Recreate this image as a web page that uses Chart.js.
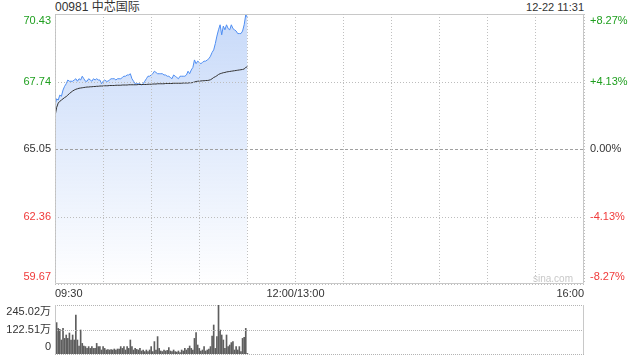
<!DOCTYPE html>
<html>
<head>
<meta charset="utf-8">
<script src="https://cdn.jsdelivr.net/npm/chart.js@4.4.1/dist/chart.umd.min.js"></script>
<style>
  body { margin: 0; background: #fff; }
  #wrap { position: relative; width: 640px; height: 360px; font-family: Arial, "Liberation Sans", "Noto Sans CJK SC", sans-serif; }
  .txt { position: absolute; top: 0; line-height: 15px; color: #333; white-space: nowrap; }
  canvas { position: absolute; left: 0; }
  .mark { position: absolute; right: 67px; top: 273px; font-size: 10px; color: #c8c8c8; }
</style>
</head>
<body>
<div id="wrap">
  <div class="txt" style="left:55px;font-size:12px;">00981 中芯国际</div>
  <div class="txt" style="right:56px;font-size:11px;">12-22 11:31</div>
  <canvas id="priceChart" width="640" height="300" style="top:0"></canvas>
  <canvas id="volumeChart" width="640" height="64" style="top:296px"></canvas>
  <div class="mark">sina.com</div>
</div>
<script>
// one value per minute from 09:30
const priceData = [
  66.80, 67.05, 67.00, 67.20, 67.15, 67.40, 67.55, 67.65, 67.80, 67.75,
  67.75, 67.75, 67.80, 67.85, 67.75, 67.85, 67.80, 67.95, 67.85, 67.75,
  67.75, 67.85, 67.80, 67.75, 67.85, 67.80, 67.85, 67.80, 67.80, 67.65,
  67.75, 67.80, 67.75, 67.75, 67.80, 67.85, 67.85, 67.85, 67.80, 67.85,
  67.85, 67.85, 67.90, 67.95, 67.95, 68.00, 68.00, 68.05, 67.85, 67.75,
  67.65, 67.65, 67.65, 67.65, 67.60, 67.65, 67.75, 67.85, 67.95, 67.95,
  68.00, 68.05, 68.15, 68.10, 68.05, 68.05, 68.05, 68.05, 68.00, 68.00,
  67.95, 67.95, 67.90, 67.85, 68.00, 67.95, 67.90, 67.85, 67.95, 67.95,
  67.95, 67.95, 68.00, 68.15, 68.05, 68.20, 68.30, 68.60, 68.45, 68.55,
  68.50, 68.45, 68.50, 68.55, 68.55, 68.60, 68.65, 68.75, 68.90, 69.00,
  69.25, 69.55, 69.80, 70.00, 69.60, 69.95, 69.80, 70.00, 69.85, 69.80,
  70.00, 69.85, 69.80, 69.75, 69.65, 69.65, 69.65, 69.75, 70.00, 70.40,
  70.30
];
const avgData = [
  66.35, 66.70, 66.88, 66.95, 67.00, 67.05, 67.10, 67.14, 67.20, 67.26,
  67.31, 67.36, 67.40, 67.43, 67.45, 67.47, 67.48, 67.49, 67.50, 67.51,
  67.52, 67.52, 67.53, 67.53, 67.54, 67.54, 67.55, 67.55, 67.56, 67.56,
  67.56, 67.57, 67.57, 67.57, 67.58, 67.58, 67.58, 67.58, 67.59, 67.59,
  67.59, 67.59, 67.60, 67.60, 67.60, 67.60, 67.61, 67.61, 67.61, 67.61,
  67.61, 67.61, 67.62, 67.62, 67.62, 67.62, 67.62, 67.62, 67.63, 67.63,
  67.63, 67.64, 67.64, 67.64, 67.65, 67.65, 67.65, 67.65, 67.65, 67.66,
  67.66, 67.66, 67.66, 67.66, 67.67, 67.67, 67.67, 67.67, 67.67, 67.67,
  67.68, 67.68, 67.68, 67.68, 67.69, 67.69, 67.70, 67.72, 67.74, 67.75,
  67.76, 67.76, 67.77, 67.77, 67.78, 67.78, 67.79, 67.81, 67.85, 67.90,
  67.93, 67.97, 68.02, 68.05, 68.07, 68.09, 68.10, 68.12, 68.13, 68.14,
  68.15, 68.16, 68.17, 68.18, 68.19, 68.20, 68.21, 68.22, 68.24, 68.30,
  68.33
];
// volume in 万 shares
const volumeData = [
  105, 157, 128, 123, 70, 128, 78, 95, 78, 105,
  70, 95, 70, 195, 70, 40, 120, 53, 40, 37,
  28, 37, 28, 37, 28, 28, 53, 37, 37, 20,
  37, 28, 20, 22, 20, 22, 20, 25, 20, 25,
  25, 37, 28, 37, 20, 37, 28, 70, 37, 20,
  28, 23, 20, 28, 15, 20, 12, 20, 12, 20,
  37, 12, 62, 20, 87, 28, 15, 12, 20, 15,
  18, 32, 15, 12, 20, 12, 10, 15, 7, 20,
  15, 28, 20, 28, 40, 28, 20, 78, 107, 45,
  28, 15, 20, 37, 15, 20, 25, 37, 90, 145,
  28, 87, 245.02, 120, 95, 70, 28, 95, 37, 45,
  57, 62, 20, 37, 20, 37, 12, 78, 83, 128,
  3
];

const prevClose = 65.05;
const priceTicks = [70.43, 67.74, 65.05, 62.36, 59.67];
const pctLabels = ['+8.27%', '+4.13%', '0.00%', '-4.13%', '-8.27%'];
const timeTicks = [0, 150, 330];
const timeLabels = ['09:30', '12:00/13:00', '16:00'];
const volTicks = [245.02, 122.51, 0];
const volLabels = ['245.02万', '122.51万', '0'];

Chart.defaults.font.family = 'Arial, "Liberation Sans", "Noto Sans CJK SC", sans-serif';
Chart.defaults.font.size = 11;
Chart.defaults.color = '#333';

const GREEN = '#1f9f1f', RED = '#f03a3a';
const tickColor = c => c.tick && c.tick.value > prevClose ? GREEN : (c.tick && c.tick.value < prevClose ? RED : '#333');

// top label sits below its line, bottom label above it
function edgeLabel(text, value, list) {
  if (value === Math.max(...list)) return ['', text];
  if (value === Math.min(...list)) return [text, ''];
  return text;
}
const fixTicks = list => axis => { axis.ticks = list.slice().sort((a, b) => a - b).map(v => ({ value: v })); };
const fitWidth = w => axis => { axis.width = w; axis.paddingTop = 0; axis.paddingBottom = 0; };

// horizontal grid from the y scale ticks (prev close dashed), then the frame
const framePlugin = {
  id: 'frame',
  afterDatasetsDraw(chart, args, opts) {
    const { ctx, chartArea: a } = chart;
    const scale = chart.scales.y;
    ctx.save();
    ctx.lineWidth = 1;
    scale.ticks.forEach(t => {
      const y = Math.round(scale.getPixelForValue(t.value)) + 0.5;
      const prev = opts.prev !== undefined && Math.abs(t.value - opts.prev) < 1e-6;
      ctx.strokeStyle = prev ? '#a0a0a0' : opts.gridColor;
      ctx.setLineDash(prev ? [3, 2] : opts.dash);
      ctx.beginPath();
      ctx.moveTo(a.left, y); ctx.lineTo(a.right, y);
      ctx.stroke();
    });
    ctx.setLineDash([]);
    ctx.strokeStyle = '#c8c8c8';
    ctx.beginPath();
    if (opts.full) {
      ctx.rect(a.left + 0.5, a.top + 0.5, a.right - a.left - 1, a.bottom - a.top - 1);
    } else {
      ctx.moveTo(a.left + 0.5, a.top); ctx.lineTo(a.left + 0.5, a.bottom);
      ctx.moveTo(a.right - 0.5, a.top); ctx.lineTo(a.right - 0.5, a.bottom);
    }
    ctx.stroke();
    ctx.restore();
  }
};

// price chart
const priceCtx = document.getElementById('priceChart').getContext('2d');
const priceChart = new Chart(priceCtx, {
  type: 'line',
  data: {
    datasets: [{
      label: 'avg',
      data: avgData.map((v, i) => ({ x: i, y: v })),
      borderColor: '#333',
      borderWidth: 1,
      pointRadius: 0,
      fill: false
    }, {
      label: 'price',
      data: priceData.map((v, i) => ({ x: i, y: v })),
      borderColor: '#4f8ef2',
      borderWidth: 1,
      pointRadius: 0,
      fill: 'start',
      backgroundColor: c => {
        const a = c.chart.chartArea;
        if (!a) return 'rgba(0,0,0,0)';
        const g = c.chart.ctx.createLinearGradient(0, a.top, 0, a.bottom);
        g.addColorStop(0, 'rgba(70,130,235,0.30)');
        g.addColorStop(1, 'rgba(70,130,235,0)');
        return g;
      }
    }]
  },
  options: {
    responsive: false,
    animation: false,
    devicePixelRatio: 1,
    layout: { padding: { top: 14, left: 0, right: 0, bottom: 0 } },
    plugins: {
      legend: { display: false }, tooltip: { enabled: false },
      frame: { full: true, prev: prevClose, gridColor: '#bdbdbd', dash: [1, 2] }
    },
    scales: {
      x: {
        type: 'linear', min: 0, max: 330,
        afterFit: axis => { axis.height = 16; axis.paddingLeft = 0; axis.paddingRight = 0; },
        grid: { color: '#c0c0c0', drawTicks: false, z: 1 },
        border: { display: false, dash: [1, 2] },
        ticks: {
          stepSize: 30, autoSkip: false, maxRotation: 0, align: 'inner', padding: 3,
          callback: v => { const i = timeTicks.indexOf(v); return i < 0 ? '' : timeLabels[i]; }
        }
      },
      y: {
        position: 'left', min: 59.67, max: 70.43,
        afterBuildTicks: fixTicks(priceTicks),
        afterFit: fitWidth(55),
        grid: { display: false, drawTicks: false },
        border: { display: false },
        ticks: { padding: 4, autoSkip: false, color: tickColor, callback: v => edgeLabel(v.toFixed(2), v, priceTicks) }
      },
      y2: {
        position: 'right', min: 59.67, max: 70.43,
        afterBuildTicks: fixTicks(priceTicks),
        afterFit: fitWidth(56),
        grid: { display: false, drawTicks: false },
        border: { display: false },
        ticks: { padding: 6, autoSkip: false, color: tickColor, callback: v => edgeLabel(pctLabels[priceTicks.indexOf(v)], v, priceTicks) }
      }
    }
  },
  plugins: [framePlugin]
});

// volume chart
const volumeCtx = document.getElementById('volumeChart').getContext('2d');
const volumeChart = new Chart(volumeCtx, {
  type: 'bar',
  data: {
    datasets: [{
      label: 'volume',
      data: volumeData.map((v, i) => ({ x: i, y: v })),
      backgroundColor: '#5e5e5e',
      barThickness: 1
    }]
  },
  options: {
    responsive: false,
    animation: false,
    devicePixelRatio: 1,
    layout: { padding: { top: 9, left: 0, right: 56, bottom: 6 } },
    plugins: {
      legend: { display: false }, tooltip: { enabled: false },
      frame: { full: false, gridColor: '#b4b4b4', dash: [1, 1] }
    },
    scales: {
      x: { type: 'linear', min: 0, max: 330, offset: false, display: false, grid: { offset: false } },
      y: {
        position: 'left', min: 0, max: 245.02,
        afterBuildTicks: fixTicks(volTicks),
        afterFit: fitWidth(55),
        grid: { display: false, drawTicks: false },
        border: { display: false },
        ticks: { padding: 4, autoSkip: false, callback: v => edgeLabel(volLabels[volTicks.indexOf(v)], v, volTicks) }
      }
    }
  },
  plugins: [framePlugin]
});
</script>
</body>
</html>
